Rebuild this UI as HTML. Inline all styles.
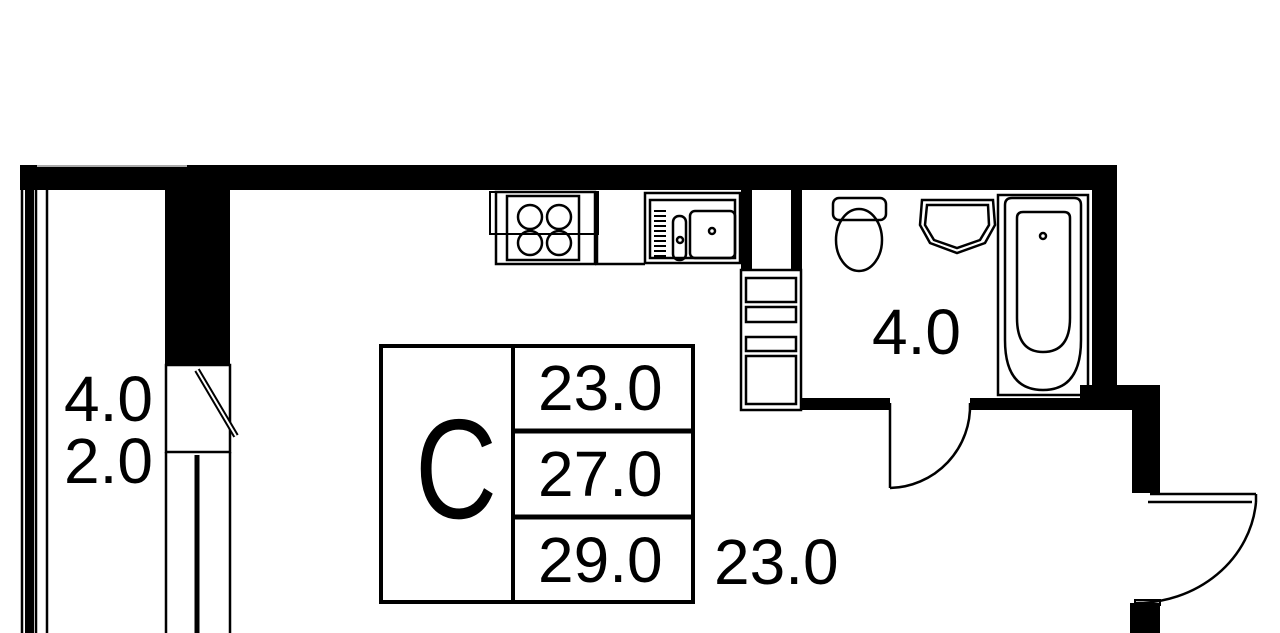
<!DOCTYPE html>
<html><head><meta charset="utf-8"><style>
html,body{margin:0;padding:0;background:#fff;}
svg{display:block;}
text{font-family:"Liberation Sans","DejaVu Sans",sans-serif;fill:#000;}
</style></head><body>
<svg width="1280" height="633" viewBox="0 0 1280 633" xmlns="http://www.w3.org/2000/svg">
<g fill="#000">
<rect x="20" y="165" width="1097" height="25"/>
<rect x="1092" y="165" width="25" height="245"/>
<rect x="1080" y="385" width="80" height="25"/>
<rect x="1132" y="385" width="28" height="108"/>
<rect x="1130" y="603" width="30" height="30"/>
<rect x="165" y="190" width="65" height="175"/>
<rect x="741" y="190" width="11" height="80"/>
<rect x="791" y="190" width="11" height="80"/>
<rect x="800" y="398" width="90" height="12"/>
<rect x="970" y="398" width="147" height="12"/>
<rect x="25" y="190" width="9" height="443"/>
</g>
<g fill="none" stroke="#000" stroke-width="2.5">
<line x1="22" y1="190" x2="22" y2="633"/>
<line x1="36" y1="190" x2="36" y2="633"/>
<line x1="47" y1="190" x2="47" y2="633"/>
<line x1="37" y1="166" x2="187" y2="166" stroke="#aaa" stroke-width="2"/>
<rect x="166" y="365" width="64" height="87"/>
<line x1="166" y1="452" x2="166" y2="633"/>
<line x1="230" y1="452" x2="230" y2="633"/>
<line x1="197" y1="455" x2="197" y2="633" stroke-width="5"/>
<line x1="197" y1="370" x2="236" y2="436" stroke-width="6"/>
<line x1="197" y1="370" x2="236" y2="436" stroke="#fff" stroke-width="2"/>
<rect x="381" y="346" width="312" height="256" stroke-width="4"/>
<line x1="513" y1="346" x2="513" y2="602" stroke-width="4"/>
<line x1="513" y1="431" x2="693" y2="431" stroke-width="5"/>
<line x1="513" y1="517" x2="693" y2="517" stroke-width="5"/>
<rect x="496" y="192" width="99" height="72"/>
<rect x="507" y="196" width="72" height="64"/>
<rect x="490" y="192" width="108" height="42" stroke-width="2"/>
<circle cx="530" cy="217" r="12"/><circle cx="559" cy="217" r="12"/>
<circle cx="530" cy="243" r="12"/><circle cx="559" cy="243" r="12"/>
<line x1="597" y1="192" x2="597" y2="264"/>
<line x1="595" y1="264" x2="645" y2="264"/>
<rect x="645" y="193" width="95" height="70"/>
<rect x="650" y="200" width="85" height="58"/>
<rect x="673" y="216" width="13" height="44" rx="6"/>
<rect x="690" y="211" width="45" height="47" rx="5"/>
<circle cx="712" cy="231" r="3"/><circle cx="680" cy="240" r="3"/>
<line x1="660" y1="210" x2="660" y2="258" stroke-width="12" stroke-dasharray="2 3"/>
<rect x="741" y="270" width="60" height="140"/>
<rect x="746" y="278" width="50" height="24"/>
<rect x="746" y="307" width="50" height="15"/>
<rect x="746" y="337" width="50" height="14"/>
<rect x="746" y="356" width="50" height="48"/>
<rect x="833" y="198" width="53" height="22" rx="6"/>
<ellipse cx="859" cy="240" rx="23" ry="31"/>
<path d="M922 200 L993 200 L995 225 L985 243 L957 253 L930 243 L920 225 Z"/>
<path d="M927 205 L988 205 L989 225 L980 240 L957 248 L934 240 L925 225 Z"/>
<rect x="998" y="195" width="90" height="200"/>
<path d="M1005 205 Q1005 198 1012 198 L1074 198 Q1081 198 1081 205 L1081 340 Q1081 390 1043 390 Q1005 390 1005 340 Z"/>
<path d="M1017 218 Q1017 212 1023 212 L1064 212 Q1070 212 1070 218 L1070 318 Q1070 352 1043 352 Q1017 352 1017 318 Z"/>
<circle cx="1043" cy="236" r="3"/>
<line x1="890" y1="403" x2="890" y2="488"/>
<path d="M890 488 A82 82 0 0 0 970 403"/>
<line x1="1150" y1="494" x2="1256" y2="494"/>
<line x1="1148" y1="502" x2="1252" y2="502"/>
<line x1="1256" y1="494" x2="1256" y2="502"/>
<path d="M1256 502 A120 110 0 0 1 1135 603"/>
<rect x="1135" y="600" width="25" height="5" stroke-width="2"/>
</g>
<text x="64" y="421" font-size="64">4.0</text>
<text x="64" y="483" font-size="64">2.0</text>
<text x="872" y="354" font-size="64">4.0</text>
<text transform="translate(415,518) scale(0.8,1)" font-size="142">C</text>
<text x="538" y="410" font-size="64">23.0</text>
<text x="538" y="496" font-size="64">27.0</text>
<text x="538" y="582" font-size="64">29.0</text>
<text x="714" y="584" font-size="64">23.0</text>
</svg>
</body></html>
